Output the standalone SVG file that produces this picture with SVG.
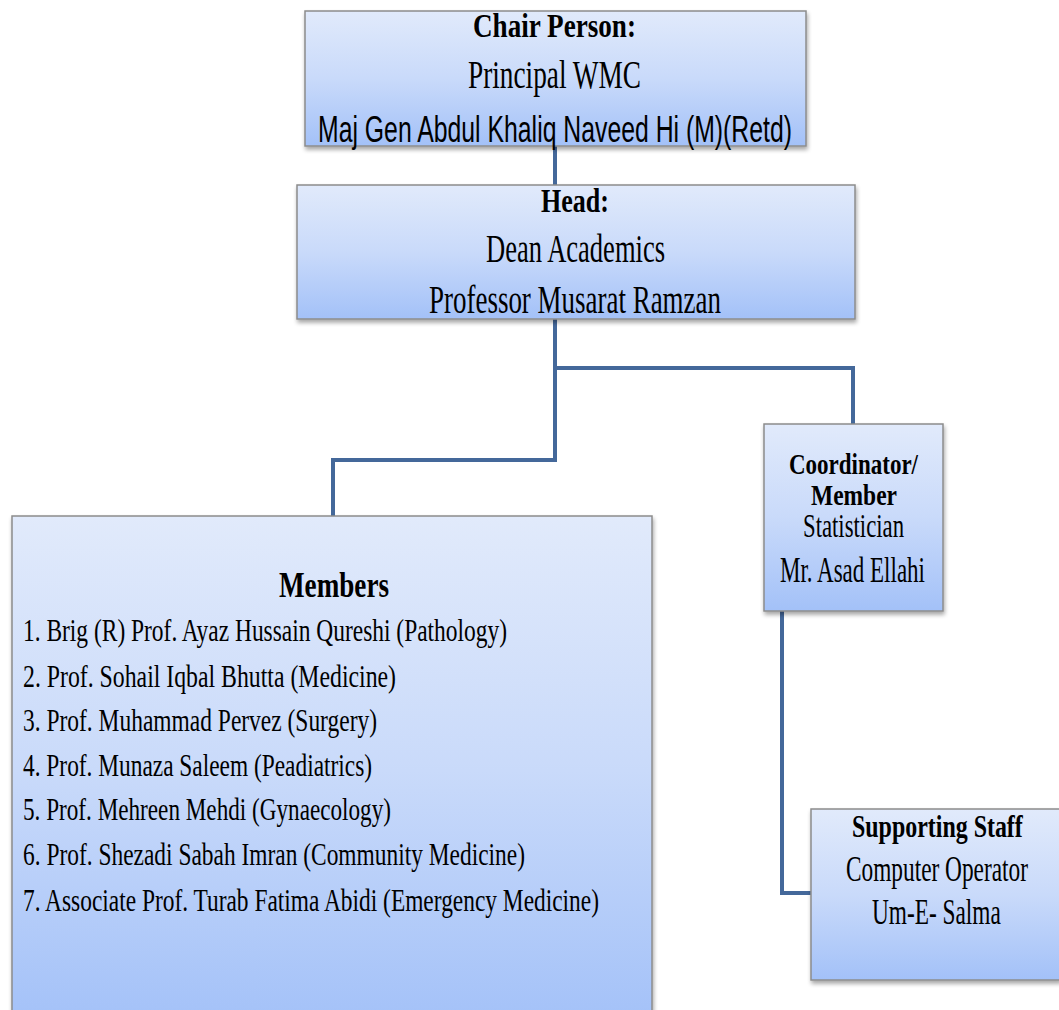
<svg xmlns="http://www.w3.org/2000/svg" width="1059" height="1010" viewBox="0 0 1059 1010">
<defs>
<linearGradient id="g" x1="0" y1="0" x2="0" y2="1">
<stop offset="0" stop-color="#E1EAFB"/>
<stop offset="0.5" stop-color="#C9DAFA"/>
<stop offset="1" stop-color="#A3C1F8"/>
</linearGradient>
<filter id="sh" x="-5%" y="-5%" width="110%" height="115%">
<feGaussianBlur in="SourceAlpha" stdDeviation="2"/>
<feOffset dx="1" dy="3" result="b"/>
<feComponentTransfer><feFuncA type="linear" slope="0.35"/></feComponentTransfer>
<feMerge><feMergeNode/><feMergeNode in="SourceGraphic"/></feMerge>
</filter>
</defs>
<style>
.box{fill:url(#g);stroke:#8C8C8C;stroke-width:1.5;filter:url(#sh)}
.t{font-family:"Liberation Serif","Times New Roman",serif;fill:#000}
.b{font-weight:bold}
.s{font-family:"Liberation Sans",Arial,sans-serif;fill:#000}
.c{fill:none;stroke:#44689A;stroke-width:4;stroke-linejoin:miter}
</style>
<rect width="1059" height="1010" fill="#FFFFFF"/>
<g id="connectors">
<path class="c" d="M555 146 V185"/>
<path class="c" d="M555 319 V460 H333 V516"/>
<path class="c" d="M555 368 H853 V424"/>
<path class="c" d="M782 611 V893 H811"/>
</g>
<g id="chair">
<rect class="box" x="305" y="11" width="501" height="135"/>
<text class="t b" x="473" y="37" font-size="34" textLength="163" lengthAdjust="spacingAndGlyphs">Chair Person:</text>
<text class="t" x="468" y="88" font-size="39" textLength="173" lengthAdjust="spacingAndGlyphs">Principal  WMC</text>
<text class="s" x="318" y="142" font-size="36" textLength="474" lengthAdjust="spacingAndGlyphs">Maj Gen Abdul Khaliq Naveed Hi (M)(Retd)</text>
</g>
<g id="head">
<rect class="box" x="297" y="185" width="558" height="134"/>
<text class="t b" x="541" y="212" font-size="34" textLength="68" lengthAdjust="spacingAndGlyphs">Head:</text>
<text class="t" x="486" y="262" font-size="39" textLength="179" lengthAdjust="spacingAndGlyphs">Dean Academics</text>
<text class="t" x="429" y="313" font-size="39" textLength="292" lengthAdjust="spacingAndGlyphs">Professor  Musarat  Ramzan</text>
</g>
<g id="coordinator">
<rect class="box" x="764" y="424" width="179" height="187"/>
<text class="t b" x="789" y="474" font-size="30" textLength="129" lengthAdjust="spacingAndGlyphs">Coordinator/</text>
<text class="t b" x="811" y="505" font-size="30" textLength="86" lengthAdjust="spacingAndGlyphs">Member</text>
<text class="t" x="803" y="537" font-size="34" textLength="101" lengthAdjust="spacingAndGlyphs">Statistician</text>
<text class="t" x="780" y="582" font-size="35" textLength="145" lengthAdjust="spacingAndGlyphs">Mr. Asad Ellahi</text>
</g>
<g id="support">
<rect class="box" x="811" y="809" width="249" height="171"/>
<text class="t b" transform="translate(852 837) scale(0.7 1)" font-size="32" textLength="244" lengthAdjust="spacingAndGlyphs">Supporting  Staff</text>
<text class="t" transform="translate(846 881) scale(0.7 1)" font-size="35" textLength="260" lengthAdjust="spacingAndGlyphs">Computer Operator</text>
<text class="t" transform="translate(872 924) scale(0.7 1)" font-size="35" textLength="184" lengthAdjust="spacingAndGlyphs">Um-E-  Salma</text>
</g>
<g id="members">
<rect class="box" x="12" y="516" width="640" height="510"/>
<text class="t b" x="279" y="597" font-size="36" textLength="110" lengthAdjust="spacingAndGlyphs">Members</text>
<text class="t" x="23" y="641" font-size="32" textLength="484" lengthAdjust="spacingAndGlyphs">1. Brig  (R) Prof. Ayaz Hussain Qureshi (Pathology)</text>
<text class="t" x="23" y="687" font-size="32" textLength="373" lengthAdjust="spacingAndGlyphs">2. Prof. Sohail Iqbal Bhutta  (Medicine)</text>
<text class="t" x="23" y="731" font-size="32" textLength="354" lengthAdjust="spacingAndGlyphs">3. Prof. Muhammad Pervez (Surgery)</text>
<text class="t" x="23" y="776" font-size="32" textLength="349" lengthAdjust="spacingAndGlyphs">4. Prof. Munaza Saleem (Peadiatrics)</text>
<text class="t" x="23" y="820" font-size="32" textLength="368" lengthAdjust="spacingAndGlyphs">5. Prof. Mehreen Mehdi (Gynaecology)</text>
<text class="t" x="23" y="865" font-size="32" textLength="502" lengthAdjust="spacingAndGlyphs">6. Prof. Shezadi Sabah Imran (Community Medicine)</text>
<text class="t" x="23" y="911" font-size="32" textLength="576" lengthAdjust="spacingAndGlyphs">7. Associate Prof. Turab Fatima Abidi (Emergency Medicine)</text>
</g>
</svg>
